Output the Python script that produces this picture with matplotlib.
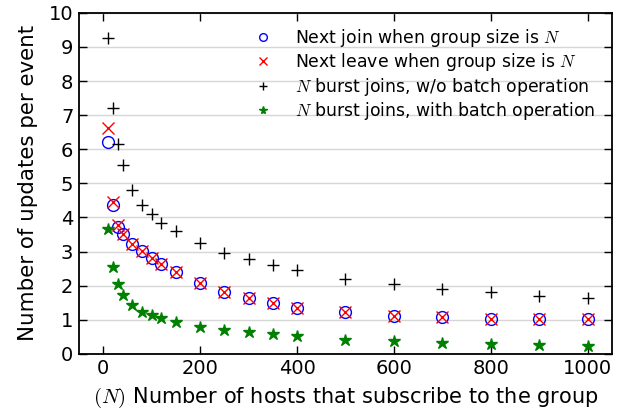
import matplotlib.pyplot as plt

plt.rcParams['mathtext.fontset'] = 'cm'

hosts = [10, 20, 30, 40, 60, 80, 100, 120, 150, 200, 250, 300, 350, 400,
         500, 600, 700, 800, 900, 1000]

next_join = [6.22, 4.37, 3.73, 3.51, 3.22, 3.01, 2.82, 2.63, 2.40, 2.07,
             1.82, 1.65, 1.48, 1.36, 1.22, 1.12, 1.07, 1.03, 1.02, 1.01]
next_leave = [6.61, 4.46, 3.78, 3.51, 3.22, 3.01, 2.82, 2.63, 2.40, 2.07,
              1.82, 1.65, 1.48, 1.36, 1.22, 1.12, 1.07, 1.03, 1.02, 1.01]
burst_no_batch = [9.27, 7.22, 6.15, 5.54, 4.80, 4.38, 4.09, 3.85, 3.60, 3.24,
                  2.97, 2.78, 2.60, 2.45, 2.21, 2.04, 1.90, 1.81, 1.71, 1.65]
burst_batch = [3.65, 2.54, 2.04, 1.74, 1.44, 1.24, 1.13, 1.05, 0.93, 0.80,
               0.71, 0.63, 0.57, 0.52, 0.42, 0.37, 0.32, 0.28, 0.26, 0.23]

fig = plt.figure(figsize=(6.31, 4.13), dpi=100)
ax = fig.add_axes([0.125, 0.143, 0.845, 0.826])

ax.plot(hosts, next_join, 'o', mfc='none', mec='blue', ms=8.5, mew=1,
        label='Next join when group size is $N$')
ax.plot(hosts, next_leave, 'x', color='red', ms=8.5, mew=1,
        label='Next leave when group size is $N$')
ax.plot(hosts, burst_no_batch, '+', color='black', ms=9, mew=1,
        label='$N$ burst joins, w/o batch operation')
ax.plot(hosts, burst_batch, '*', color='green', mec='green', ms=9,
        label='$N$ burst joins, with batch operation')

ax.set_xlim(-50, 1050)
ax.set_ylim(0, 10)
ax.set_yticks(range(0, 11))
ax.set_xticks([0, 200, 400, 600, 800, 1000])
ax.yaxis.grid(True, color='0.84', lw=1)
ax.set_axisbelow(True)
ax.tick_params(direction='in', top=True, right=True, labelsize=14,
               length=6, width=1, pad=4)
for s in ax.spines.values():
    s.set_linewidth(1.3)

ax.set_xlabel('$(N)$ Number of hosts that subscribe to the group',
              fontsize=15, labelpad=5)
ax.set_ylabel('Number of updates per event', fontsize=15.4, labelpad=8)

ax.legend(loc='upper right', bbox_to_anchor=(1.0, 1.01), frameon=False,
          numpoints=1, fontsize=12.4, markerscale=0.65, handletextpad=0.85,
          borderaxespad=0.6, labelspacing=0.15)

fig.savefig('out.png', dpi=100)
